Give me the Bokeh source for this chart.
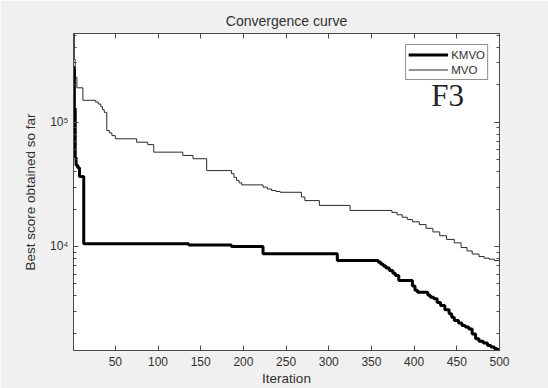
from bokeh.plotting import figure
from bokeh.models import (FixedTicker, LinearAxis, LogAxis, Legend, LegendItem,
                          Label, Range1d, CustomJSTickFormatter)
from bokeh.embed import file_html
from bokeh.resources import INLINE

# ---- data ----
kmvo_iter = [1, 2, 3, 4, 6, 8, 13, 136, 186, 223, 310, 358, 361, 364, 367, 371, 375,
             378, 382, 398, 401, 404, 416, 419, 423, 427, 431, 436, 441, 444, 447,
             452, 456, 460, 464, 468, 472, 476, 481, 486, 490, 494, 497, 500]
kmvo_best = [2.75e5, 1.3e5, 5.2e4, 4.5e4, 4.3e4, 3.65e4, 1.05e4, 1.03e4, 1.0e4, 8730,
             7710, 7450, 7200, 6950, 6700, 6400, 6100, 5850, 5320, 4800, 4450, 4290,
             4050, 3900, 3800, 3550, 3350, 3100, 2870, 2700, 2540, 2420, 2310, 2250,
             2170, 1980, 1810, 1730, 1670, 1600, 1550, 1510, 1480, 1456]

mvo_iter = [1, 2, 3, 5, 12, 27, 30, 33, 35, 37, 40, 43, 46, 50, 75, 88, 95, 129, 141,
            157, 186, 189, 192, 195, 198, 223, 228, 233, 238, 243, 268, 272, 289, 325,
            374, 380, 386, 392, 398, 406, 414, 422, 430, 438, 447, 455, 462, 468, 476,
            482, 488, 494, 500]
mvo_best = [5.17e5, 3.2e5, 2.3e5, 1.89e5, 1.50e5, 1.455e5, 1.4e5, 1.33e5, 1.26e5,
            1.2e5, 8.57e4, 8.2e4, 7.8e4, 7.35e4, 6.9e4, 6.6e4, 5.74e4, 5.4e4, 5.08e4,
            4.08e4, 3.85e4, 3.6e4, 3.4e4, 3.25e4, 3.13e4, 3.0e4, 2.9e4, 2.82e4, 2.77e4,
            2.73e4, 2.5e4, 2.34e4, 2.14e4, 1.95e4, 1.88e4, 1.8e4, 1.72e4, 1.65e4,
            1.58e4, 1.5e4, 1.4e4, 1.31e4, 1.22e4, 1.14e4, 1.07e4, 9.8e3, 9.2e3, 8.7e3,
            8.3e3, 8.05e3, 7.9e3, 7.7e3, 7.55e3]

x_ticks = [50, 100, 150, 200, 250, 300, 350, 400, 450, 500]
y_major = [1e4, 1e5]
y_minor = [m * d for d in (1e3, 1e4, 1e5) for m in range(2, 10)]

FONT = "Liberation Sans"
TXT = "#303030"
AX = "#4a4a4a"

p = figure(width=548, height=388,
           x_range=Range1d(1, 500),
           y_range=Range1d(min(kmvo_best), max(mvo_best)),
           y_axis_type="log",
           output_backend="svg", toolbar_location=None,
           min_border_left=73, min_border_right=49,
           min_border_top=33, min_border_bottom=38,
           background_fill_color="white", border_fill_color="#f0f0f0",
           title="Convergence curve")

p.title.align = "center"
p.title.text_font = FONT
p.title.text_font_size = "14px"
p.title.text_font_style = "normal"
p.title.text_color = TXT

p.xgrid.grid_line_color = None
p.ygrid.grid_line_color = None
p.outline_line_color = AX

yfmt = CustomJSTickFormatter(code="""
const s = {'2':'\u00b2','3':'\u00b3','4':'\u2074','5':'\u2075','6':'\u2076'};
const e = Math.round(Math.log10(tick));
return '10' + s[String(e)];
""")

def style_axis(ax, minor=True):
    ax.axis_line_color = AX
    ax.major_tick_line_color = AX
    ax.major_tick_in = 5
    ax.major_tick_out = 0
    if minor:
        ax.minor_tick_line_color = AX
        ax.minor_tick_in = 3
        ax.minor_tick_out = 0
    else:
        ax.minor_tick_line_color = None
    ax.major_label_text_font = FONT
    ax.major_label_text_font_size = "12px"
    ax.major_label_text_color = TXT
    ax.axis_label_text_font = FONT
    ax.axis_label_text_font_size = "13.5px"
    ax.axis_label_text_font_style = "normal"
    ax.axis_label_text_color = TXT

xa = p.xaxis[0]
xa.ticker = FixedTicker(ticks=x_ticks)
style_axis(xa, minor=False)
xa.axis_label = "Iteration"
xa.major_label_standoff = 6
xa.axis_label_standoff = 2

ya = p.yaxis[0]
ya.ticker = FixedTicker(ticks=y_major, minor_ticks=y_minor)
ya.formatter = yfmt
style_axis(ya)
ya.axis_label = "Best score obtained so far"
ya.major_label_standoff = 5
ya.axis_label_standoff = 9

top = LinearAxis(ticker=FixedTicker(ticks=x_ticks))
style_axis(top, minor=False)
top.major_label_text_font_size = "1px"
top.major_label_text_color = None
top.major_label_standoff = 0
p.add_layout(top, "above")

right = LogAxis(ticker=FixedTicker(ticks=y_major, minor_ticks=y_minor))
style_axis(right)
right.major_label_text_font_size = "1px"
right.major_label_text_color = None
right.major_label_standoff = 0
p.add_layout(right, "right")

rm = p.step(mvo_iter, mvo_best, mode="after", line_color="#2a2a2a", line_width=1)
rk = p.step(kmvo_iter, kmvo_best, mode="after", line_color="black", line_width=3)

legend = Legend(items=[LegendItem(label="KMVO", renderers=[rk]),
                       LegendItem(label="MVO", renderers=[rm])],
                location="top_right", margin=11, padding=2, spacing=0,
                label_height=15, glyph_height=15, glyph_width=40, label_standoff=3,
                label_text_font=FONT, label_text_font_size="11.5px",
                label_text_color=TXT,
                border_line_color="#222222", border_line_width=1,
                background_fill_color="white", background_fill_alpha=1)
p.add_layout(legend)

p.add_layout(Label(x=420, y=1.636e5, text="F3", text_font="Liberation Serif",
                   text_font_size="31px", text_color="#222222",
                   text_baseline="alphabetic"))

open("out.html", "w").write(file_html(p, INLINE))
